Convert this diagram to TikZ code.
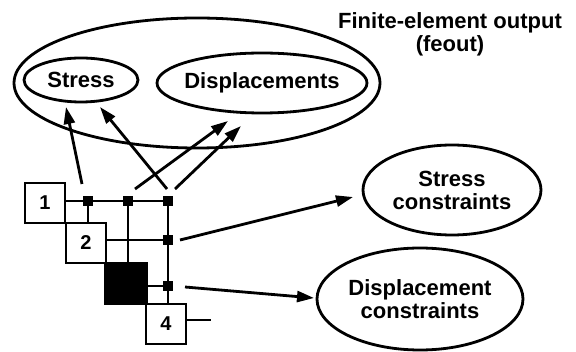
\documentclass[tikz,border=0pt]{standalone}
\usepackage{fontspec}
\setmainfont{Liberation Sans}
\usetikzlibrary{arrows.meta,shapes.geometric}
\begin{document}
\begin{tikzpicture}[x=1pt,y=-1pt, line width=2.8pt,
 lbl/.style={font=\bfseries\fontsize{22}{23}\selectfont, align=center, inner sep=0pt},
 oval/.style={draw, ellipse, inner sep=0pt, font=\bfseries\fontsize{22}{23}\selectfont, align=center},
 box/.style={draw, minimum width=40pt, minimum height=40pt, inner sep=0pt, font=\bfseries\fontsize{20}{22}\selectfont},
 jn/.style={fill=black, minimum size=10pt, inner sep=0pt},
 arr/.style={-{Triangle[length=17pt,width=11pt]}, line width=2.8pt}]
\useasboundingbox (0,0) rectangle (576,352);

% ellipses
\node[oval, minimum width=366pt, minimum height=130pt] (feout) at (197,83) {};
\node[oval, minimum width=114pt, minimum height=44pt] (stress) at (81,80) {Stress};
\node[oval, minimum width=210pt, minimum height=60pt, inner xsep=-5pt] (disp) at (262,83) {Displacements};
\node[lbl] (title) at (450,34) {Finite-element output\\(feout)};
\node[oval, minimum width=178pt, minimum height=90pt] (sc) at (452,190) {Stress\\constraints};
\node[oval, minimum width=206pt, minimum height=102pt] (dc) at (420,299) {Displacement\\constraints};

% matrix boxes
\node[box] (b1) at (45,203) {1};
\node[box] (b2) at (86,243) {2};
\node[box, fill=black, minimum width=42pt, minimum height=41pt] (b3) at (126,283.5) {};
\node[box] (b4) at (166,324) {4};

% junctions
\node[jn] (j1) at (88,201) {};
\node[jn] (j2) at (128,201) {};
\node[jn] (j3) at (168,201) {};
\node[jn] (j4) at (168,240) {};
\node[jn] (j5) at (168,286) {};

\draw (b1.east |- j1) -- (j3.center);
\draw (j1.center) -- (j1 |- b2.north);
\draw (j2.center) -- (j2 |- b3.north);
\draw (j3.center) -- (j3 |- b4.north);
\draw (b2.east |- j4) -- (j4.center);
\draw (b3.east |- j5) -- (j5.center);
\coordinate (e4) at (211,320);
\draw (b4.east |- e4) -- (e4);

% arrows
\coordinate (a1s) at (82,184);  \coordinate (a1e) at (66,107);
\coordinate (a2s) at (167,189); \coordinate (a2e) at (100,107);
\coordinate (a3s) at (135,189); \coordinate (a3e) at (228,121);
\coordinate (a4s) at (175,189); \coordinate (a4e) at (241,126);
\coordinate (a5s) at (180,240); \coordinate (a5e) at (353,197);
\coordinate (a6s) at (185,287); \coordinate (a6e) at (314,298);
\draw[arr] (a1s) -- (a1e);
\draw[arr] (a2s) -- (a2e);
\draw[arr] (a3s) -- (a3e);
\draw[arr] (a4s) -- (a4e);
\draw[arr] (a5s) -- (a5e);
\draw[arr] (a6s) -- (a6e);
\end{tikzpicture}
\end{document}
